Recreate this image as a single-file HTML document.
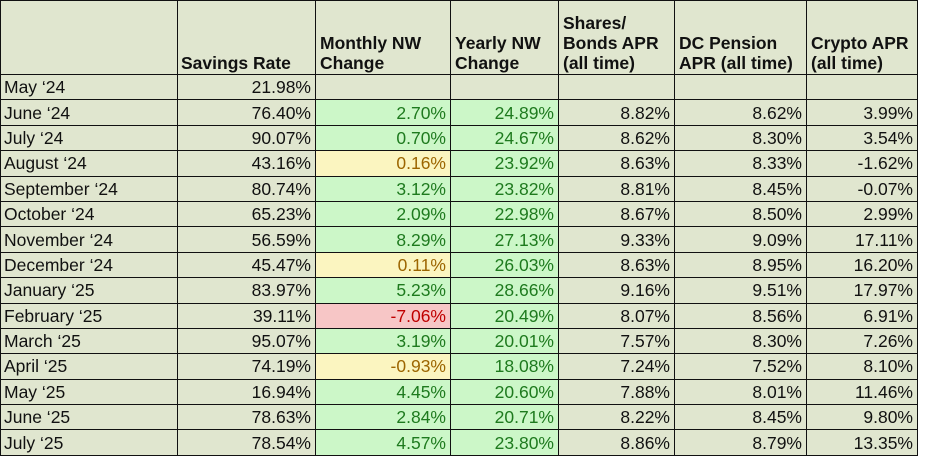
<!DOCTYPE html>
<html><head><style>
body{margin:0;background:#fff;width:926px;height:471px;overflow:hidden;font-family:"Liberation Sans",Arial,sans-serif;}
table{position:absolute;left:0;top:0;border-collapse:collapse;table-layout:fixed;background:#e0e6cf;}
td{border:1.5px solid #111;font-size:17.5px;padding:0 4px 0 4px;text-align:right;white-space:nowrap;color:#111;line-height:20px;overflow:hidden;}
tr{height:25.4px;}
td:first-child{text-align:left;padding-left:3px;}
tr.h{height:74px;}
tr.h td{vertical-align:bottom;text-align:left;font-weight:bold;font-size:17.5px;line-height:20px;padding-bottom:1px;}
tr.h td:nth-child(2){padding-left:3px;}
.g{background:#ccf7c8;color:#1e7a1e;}
.y{background:#fbf5c0;color:#9c6500;}
.r{background:#f7c6c6;color:#c00000;}
</style></head><body>
<table>
<colgroup><col style="width:177px"><col style="width:138px"><col style="width:135px"><col style="width:108px"><col style="width:116px"><col style="width:132px"><col style="width:111px"></colgroup>
<tr class="h"><td></td><td>Savings Rate</td><td>Monthly NW<br>Change</td><td>Yearly NW<br>Change</td><td>Shares/<br>Bonds APR<br>(all time)</td><td>DC Pension<br>APR (all time)</td><td>Crypto APR<br>(all time)</td></tr>
<tr><td>May ‘24</td><td>21.98%</td><td></td><td></td><td></td><td></td><td></td></tr>
<tr><td>June ‘24</td><td>76.40%</td><td class="g">2.70%</td><td class="g">24.89%</td><td>8.82%</td><td>8.62%</td><td>3.99%</td></tr>
<tr><td>July ‘24</td><td>90.07%</td><td class="g">0.70%</td><td class="g">24.67%</td><td>8.62%</td><td>8.30%</td><td>3.54%</td></tr>
<tr><td>August ‘24</td><td>43.16%</td><td class="y">0.16%</td><td class="g">23.92%</td><td>8.63%</td><td>8.33%</td><td>-1.62%</td></tr>
<tr><td>September ‘24</td><td>80.74%</td><td class="g">3.12%</td><td class="g">23.82%</td><td>8.81%</td><td>8.45%</td><td>-0.07%</td></tr>
<tr><td>October ‘24</td><td>65.23%</td><td class="g">2.09%</td><td class="g">22.98%</td><td>8.67%</td><td>8.50%</td><td>2.99%</td></tr>
<tr><td>November ‘24</td><td>56.59%</td><td class="g">8.29%</td><td class="g">27.13%</td><td>9.33%</td><td>9.09%</td><td>17.11%</td></tr>
<tr><td>December ‘24</td><td>45.47%</td><td class="y">0.11%</td><td class="g">26.03%</td><td>8.63%</td><td>8.95%</td><td>16.20%</td></tr>
<tr><td>January ‘25</td><td>83.97%</td><td class="g">5.23%</td><td class="g">28.66%</td><td>9.16%</td><td>9.51%</td><td>17.97%</td></tr>
<tr><td>February ‘25</td><td>39.11%</td><td class="r">-7.06%</td><td class="g">20.49%</td><td>8.07%</td><td>8.56%</td><td>6.91%</td></tr>
<tr><td>March ‘25</td><td>95.07%</td><td class="g">3.19%</td><td class="g">20.01%</td><td>7.57%</td><td>8.30%</td><td>7.26%</td></tr>
<tr><td>April ‘25</td><td>74.19%</td><td class="y">-0.93%</td><td class="g">18.08%</td><td>7.24%</td><td>7.52%</td><td>8.10%</td></tr>
<tr><td>May ‘25</td><td>16.94%</td><td class="g">4.45%</td><td class="g">20.60%</td><td>7.88%</td><td>8.01%</td><td>11.46%</td></tr>
<tr><td>June ‘25</td><td>78.63%</td><td class="g">2.84%</td><td class="g">20.71%</td><td>8.22%</td><td>8.45%</td><td>9.80%</td></tr>
<tr><td>July ‘25</td><td>78.54%</td><td class="g">4.57%</td><td class="g">23.80%</td><td>8.86%</td><td>8.79%</td><td>13.35%</td></tr>
</table>
</body></html>
